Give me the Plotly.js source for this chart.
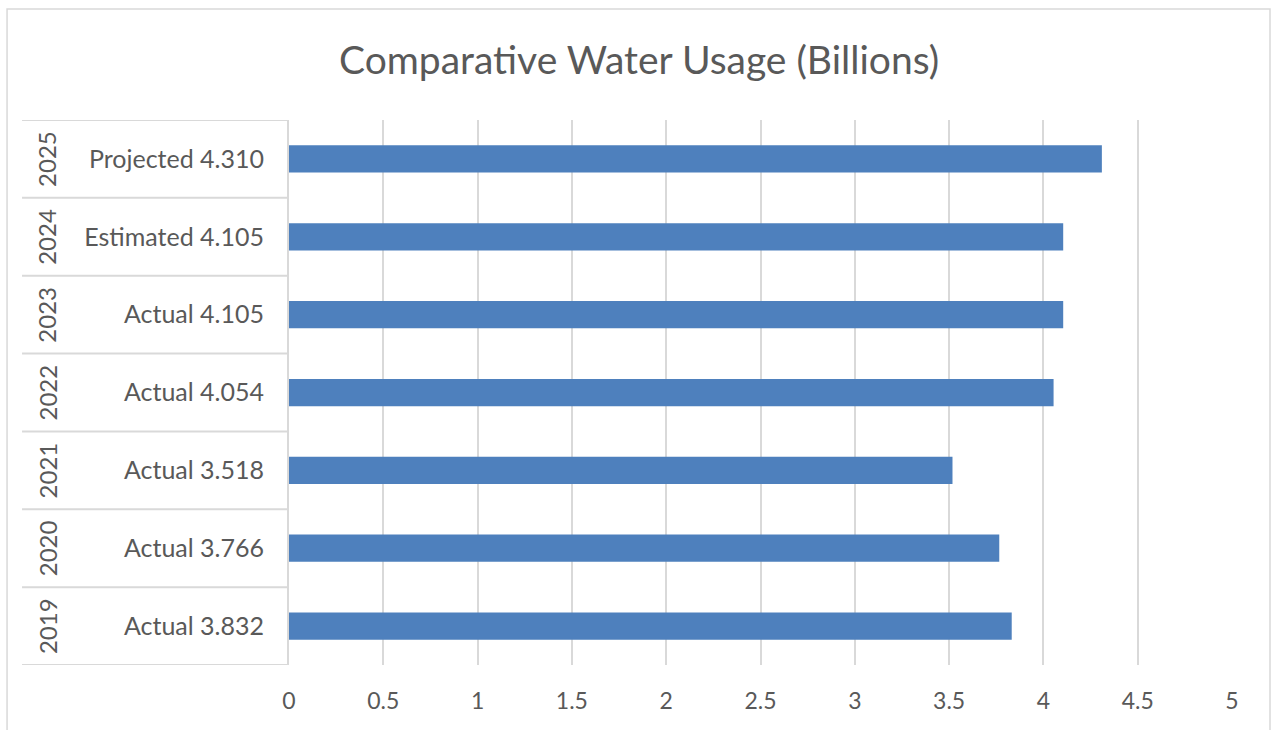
<!DOCTYPE html>
<html>
<head>
<meta charset="utf-8">
<script src="https://cdn.plot.ly/plotly-3.0.1.min.js"></script>
<style>
  html, body { margin: 0; padding: 0; background: #ffffff; }
  #chart { width: 1273px; height: 730px; }
</style>
</head>
<body>
<div id="chart"></div>
<script>
// ---- data ----
const years    = ['2019', '2020', '2021', '2022', '2023', '2024', '2025'];
const statuses = ['Actual', 'Actual', 'Actual', 'Actual', 'Actual', 'Estimated', 'Projected'];
const values   = [3.832, 3.766, 3.518, 4.054, 4.105, 4.105, 4.310];
const xTicks   = [0, 0.5, 1, 1.5, 2, 2.5, 3, 3.5, 4, 4.5, 5];
const xTickLabels = ['0', '0.5', '1', '1.5', '2', '2.5', '3', '3.5', '4', '4.5', '5'];
const chartTitle = 'Comparative Water Usage (Billions)';

const labels = statuses.map((s, i) => s + ' ' + values[i].toFixed(3));

const FONT = 'Lato, "Open Sans", sans-serif';
const TEXT = '#595959';
const GRID = '#d9d9d9';

const trace = {
  type: 'bar',
  orientation: 'h',
  x: values,
  y: labels,
  width: 0.35,
  marker: { color: '#4e80bd', line: { width: 0 } },
  hoverinfo: 'x+y'
};

// year labels (rotated) and separator lines of the category column
const annotations = years.map((yr, i) => ({
  xref: 'paper', yref: 'y',
  x: -0.2566, y: labels[i],
  text: yr, textangle: -90, showarrow: false,
  font: { family: FONT, size: 24, color: TEXT },
  xanchor: 'center', yanchor: 'middle'
}));

const shapes = [];
for (let k = 0; k <= years.length; k++) {
  shapes.push({
    type: 'line', xref: 'paper', yref: 'y',
    x0: -0.2831, x1: 0, y0: k - 0.5, y1: k - 0.5,
    line: { color: GRID, width: 2 }, layer: 'above'
  });
}
// outer chart border
shapes.push({
  type: 'rect', xref: 'paper', yref: 'paper',
  x0: -0.299, x1: 1.0403, y0: -0.3, y1: 1.2037,
  line: { color: GRID, width: 1.5 }, fillcolor: 'rgba(0,0,0,0)', layer: 'below'
});

const layout = {
  width: 1273, height: 730,
  margin: { l: 289, r: 41, t: 120, b: 65, pad: 0 },
  paper_bgcolor: '#ffffff', plot_bgcolor: '#ffffff',
  showlegend: false,
  title: {
    text: chartTitle,
    x: 0.502, xref: 'container', xanchor: 'center',
    y: 0.918, yref: 'container', yanchor: 'middle',
    font: { family: FONT, size: 39, color: TEXT }
  },
  xaxis: {
    range: [0, 5],
    tickvals: xTicks, ticktext: xTickLabels,
    showgrid: true, gridcolor: GRID, gridwidth: 2,
    zeroline: false, showline: false,
    ticks: '', ticklabelstandoff: 20,
    tickfont: { family: FONT, size: 23, color: TEXT },
    fixedrange: true
  },
  yaxis: {
    type: 'category',
    categoryorder: 'array', categoryarray: labels,
    range: [-0.5, labels.length - 0.5],
    showgrid: false, zeroline: false,
    showline: true, linecolor: GRID, linewidth: 2,
    ticks: '', ticklabelstandoff: 18,
    tickfont: { family: FONT, size: 25, color: TEXT },
    fixedrange: true
  },
  annotations: annotations,
  shapes: shapes
};

Plotly.newPlot('chart', [trace], layout, { displayModeBar: false, staticPlot: true });
</script>
</body>
</html>
